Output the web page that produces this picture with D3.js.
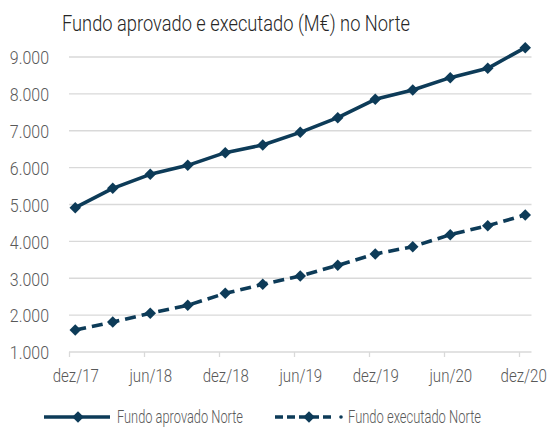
<!DOCTYPE html>
<html>
<head>
<meta charset="utf-8">
<script src="https://cdn.jsdelivr.net/npm/d3@7"></script>
<style>
  html, body { margin: 0; padding: 0; background: #fff; }
  svg { display: block; }
  text { font-family: Roboto, "Liberation Sans", sans-serif; font-weight: 300; }
</style>
</head>
<body>
<svg id="chart" width="551" height="428"></svg>
<script>
const title = "Fundo aprovado e executado (M€) no Norte";
const periods = ["dez/17","mar/18","jun/18","set/18","dez/18","mar/19","jun/19","set/19","dez/19","mar/20","jun/20","set/20","dez/20"];
const xTickLabels = ["dez/17","jun/18","dez/18","jun/19","dez/19","jun/20","dez/20"];
const aprovado = [4913, 5439, 5818, 6062, 6406, 6614, 6957, 7355, 7852, 8105, 8440, 8693, 9253];
const executado = [1597, 1814, 2049, 2266, 2591, 2835, 3061, 3350, 3658, 3857, 4182, 4426, 4715];
const yTicks = [1000, 2000, 3000, 4000, 5000, 6000, 7000, 8000, 9000];
const seriesNames = ["Fundo aprovado Norte", "Fundo executado Norte"];

const color = "#0d3b58";
const svg = d3.select("#chart");

function condense(sel, factor) {
  sel.each(function () {
    const w = this.getComputedTextLength();
    d3.select(this).attr("textLength", w * factor).attr("lengthAdjust", "spacingAndGlyphs");
  });
}
function fitTo(sel, width) {
  sel.attr("textLength", width).attr("lengthAdjust", "spacingAndGlyphs");
}

// month index scale: each period is a quarter; points sit half a month after the boundary tick
const x = d3.scaleLinear().domain([0, 37]).range([69, 531.5]);
const monthOf = i => 0.5 + 3 * i;
const y = d3.scaleLinear().domain([1000, 9000]).range([352, 57]);

const fmt = v => d3.format(",")(v).replace(/,/g, ".");

// gridlines
svg.append("g")
  .selectAll("line").data(yTicks.slice(1)).join("line")
  .attr("x1", x(0)).attr("x2", x(37))
  .attr("y1", d => y(d)).attr("y2", d => y(d))
  .attr("stroke", "#d9d9d9").attr("stroke-width", 1.3);

// y axis labels
const yAxis = svg.append("g").attr("transform", `translate(${x(0) - 17},0)`)
  .call(d3.axisLeft(y).tickValues(yTicks).tickSize(0).tickFormat(fmt));
yAxis.select(".domain").remove();
yAxis.selectAll("text").attr("font-size", 19).attr("fill", "#595959")
  .attr("font-family", null).attr("dy", "0.36em");
condense(yAxis.selectAll("text"), 0.84);

// x axis: tick marks at period boundaries
const xTicksG = svg.append("g").attr("transform", `translate(0,${y(1000)})`)
  .call(d3.axisBottom(x).tickValues([0, 6, 12, 18, 24, 30, 36]).tickSize(5).tickFormat(""));
xTicksG.select(".domain").attr("stroke", "#d9d9d9").attr("stroke-width", 1.3)
  .attr("d", `M${x(0)},0H${x(37)}`);
xTicksG.selectAll(".tick line").attr("stroke", "#d9d9d9").attr("stroke-width", 1.3);

// x axis labels centred on data points
const xLab = svg.append("g").attr("transform", `translate(0,${y(1000)})`)
  .call(d3.axisBottom(x).tickValues(xTickLabels.map((_, k) => monthOf(2 * k))).tickSize(0)
    .tickFormat((d, k) => xTickLabels[k]));
xLab.select(".domain").remove();
xLab.selectAll("text").attr("font-size", 17.5).attr("fill", "#595959").attr("dy", "1.52em")
  .attr("font-family", null);
condense(xLab.selectAll("text"), 0.86);
// keep the last label inside the picture edge
xLab.selectAll("text").filter((d, k) => k === xTickLabels.length - 1)
  .attr("text-anchor", "end").attr("x", 21);

// lines
const line = d3.line().x((d, i) => x(monthOf(i))).y(d => y(d));
const diamond = d3.symbol().type(d3.symbolDiamond2).size(84);

function drawSeries(values, dashed) {
  svg.append("path").datum(values)
    .attr("d", line).attr("fill", "none").attr("stroke", color)
    .attr("stroke-width", 3.6).attr("stroke-linejoin", "round")
    .attr("stroke-dasharray", dashed ? "11,6" : null);
  svg.append("g").selectAll("path").data(values).join("path")
    .attr("d", diamond)
    .attr("transform", (d, i) => `translate(${x(monthOf(i))},${y(d)})`)
    .attr("fill", color);
}
drawSeries(aprovado, false);
drawSeries(executado, true);

// title
const t = svg.append("text").attr("x", 62).attr("y", 31).text(title)
  .attr("font-size", 21.5).attr("font-weight", 400).attr("fill", "#262626");
fitTo(t, 348);

// legend
const legY = 417;
const legBase = 423;
const leg = svg.append("g");
leg.append("line").attr("x1", 44).attr("x2", 110).attr("y1", legY).attr("y2", legY)
  .attr("stroke", color).attr("stroke-width", 3.6);
leg.append("path").attr("d", diamond).attr("transform", `translate(78,${legY})`).attr("fill", color);
const l1 = leg.append("text").attr("x", 117).attr("y", legBase).text(seriesNames[0])
  .attr("font-size", 18).attr("fill", "#595959");
fitTo(l1, 126);

leg.append("line").attr("x1", 275).attr("x2", 332).attr("y1", legY).attr("y2", legY)
  .attr("stroke", color).attr("stroke-width", 3.6).attr("stroke-dasharray", "8,4");
leg.append("circle").attr("cx", 341).attr("cy", legY).attr("r", 1.8).attr("fill", color);
leg.append("path").attr("d", diamond).attr("transform", `translate(309,${legY})`).attr("fill", color);
const l2 = leg.append("text").attr("x", 348).attr("y", legBase).text(seriesNames[1])
  .attr("font-size", 18).attr("fill", "#595959");
fitTo(l2, 133);
</script>
</body>
</html>
